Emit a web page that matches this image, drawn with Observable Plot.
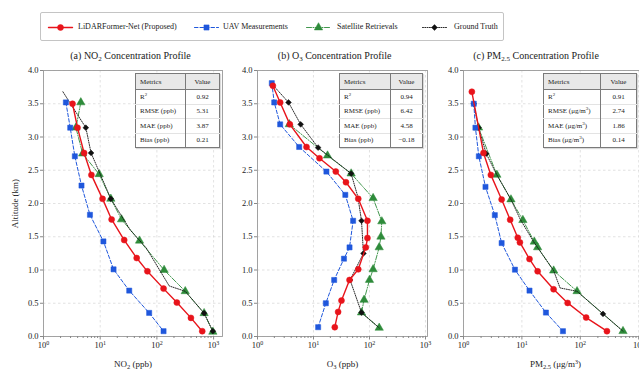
<!DOCTYPE html>
<html><head><meta charset="utf-8">
<script src="https://cdn.jsdelivr.net/npm/d3@7"></script>
<script src="https://cdn.jsdelivr.net/npm/@observablehq/plot@0.6"></script>
<style>
body{margin:0;width:639px;height:372px;overflow:hidden;position:relative;background:#fff;font-family:"Liberation Serif","Times New Roman",serif;color:#222}
.abs{position:absolute}
.title{position:absolute;top:50px;font-size:10px;line-height:12px;white-space:nowrap;transform:translateX(-50%)}
.title sub{font-size:7px;vertical-align:-2px;line-height:0}
table.m{position:absolute;border-collapse:collapse;font-size:7px;background:#fff;border:1px solid #7a7a7a;box-shadow:1px 1px 1px rgba(0,0,0,0.15)}
table.m td{padding:0 0 0 4px;border-top:1px solid #e3e3e3;height:13.5px;line-height:8px;white-space:nowrap}
table.m td.v{text-align:center;padding:0;border-left:1px solid #7a7a7a}
table.m tr.h td{background:#e8e8e8;height:15px;border-top:none;border-bottom:1px solid #7a7a7a}
table.m sup{font-size:5px;vertical-align:3px;line-height:0}
#legend{left:40px;top:12px;width:462px;height:27px;border:1px solid #c4c4c4;border-radius:2px;background:#fff}
.li{position:absolute;top:8px;font-size:8px;line-height:12px;white-space:nowrap}
.plotbox{position:absolute;top:62px}
</style>
</head><body>
<div id="legend" class="abs"></div>
<div id="titles"></div>
<div id="pa" class="plotbox" style="left:0px"></div>
<div id="pb" class="plotbox" style="left:222px"></div>
<div id="pc" class="plotbox" style="left:427px"></div>
<div id="tables"></div>
<script>
// ---------------- data ----------------
const seriesNames = ["LiDARFormer-Net (Proposed)", "UAV Measurements", "Satellite Retrievals", "Ground Truth"];
const panelTitles = ["(a) NO<sub>2</sub> Concentration Profile", "(b) O<sub>3</sub> Concentration Profile", "(c) PM<sub>2.5</sub> Concentration Profile"];
const xTickValues = [1, 10, 100, 1000];
const yTickValues = [0, 0.5, 1, 1.5, 2, 2.5, 3, 3.5, 4];
const metricNames = ["R<sup>2</sup>", "RMSE", "MAE", "Bias"];
const unitsA = "(ppb)", unitsB = "(ppb)", unitsC = "(μg/m<sup>3</sup>)";
const metricValA = ["0.92", "5.31", "3.87", "0.21"];
const metricValB = ["0.94", "6.42", "4.58", "−0.18"];
const metricValC = ["0.91", "2.74", "1.86", "0.14"];

// Panel (a) NO2
const altRedA = [3.50, 3.14, 2.76, 2.43, 2.07, 1.76, 1.45, 1.18, 0.98, 0.72, 0.51, 0.28, 0.08];
const valRedA = [3.25, 3.98, 5.2, 7.0, 11, 15.9, 26.5, 44, 68, 131, 225, 398, 630];
const altBlueA = [3.52, 3.14, 2.71, 2.27, 1.83, 1.43, 1.01, 0.69, 0.355, 0.08];
const valBlueA = [2.48, 2.96, 3.57, 4.68, 6.6, 11.4, 17.2, 32.5, 73, 131];
const altGreenA = [3.52, 3.14, 2.75, 2.44, 2.07, 1.76, 1.44, 1.0, 0.68, 0.35, 0.07];
const valGreenA = [4.55, 3.73, 4.9, 9.6, 15.4, 23.8, 49.4, 134, 316, 680, 970];
const altBlackA = [3.68, 3.14, 2.76, 2.07, 1.6, 1.33, 0.76, 0.68, 0.35, 0.08];
const valBlackA = [2.2, 5.58, 6.9, 15.4, 34, 65, 165, 316, 680, 970];
const markBlackA = [0, 1, 1, 1, 0, 0, 0, 0, 1, 1];

// Panel (b) O3
const altRedB = [3.77, 3.52, 3.19, 2.85, 2.68, 2.48, 2.32, 2.07, 1.74, 1.48, 1.34, 1.01, 0.85, 0.54, 0.37, 0.14];
const valRedB = [1.88, 2.54, 3.78, 7.5, 12.8, 25, 38, 63, 92, 92, 86, 63, 44, 31.6, 27.5, 24];
const altBlueB = [3.81, 3.52, 3.19, 2.85, 2.48, 2.13, 1.74, 1.34, 1.17, 0.85, 0.5, 0.14];
const valBlueB = [1.8, 1.99, 2.54, 5.55, 17, 37, 51, 44, 35, 23.4, 16.6, 12.1];
const altGreenB = [3.19, 2.72, 2.45, 2.08, 1.73, 1.5, 1.34, 1.01, 0.85, 0.55, 0.36, 0.13];
const valGreenB = [3.7, 17.8, 47, 116, 166, 160, 149, 116, 100, 80, 72, 149];
const altBlackB = [3.8, 3.52, 3.19, 2.84, 2.45, 2.1, 1.74, 1.25, 0.85, 0.36, 0.13];
const valBlackB = [1.8, 3.58, 5.9, 12.1, 47, 62, 72, 78, 45, 72, 149];
const markBlackB = [0, 1, 1, 1, 1, 0, 1, 1, 1, 1, 0];

// Panel (c) PM2.5
const altRedC = [3.68, 2.76, 2.43, 2.06, 1.755, 1.485, 1.415, 1.165, 0.98, 0.71, 0.505, 0.285, 0.08];
const valRedC = [1.39, 2.2, 2.94, 4.5, 6.3, 8.5, 9.25, 13.5, 18.6, 34.9, 60.7, 126, 286];
const altBlueC = [3.5, 3.14, 2.71, 2.25, 1.825, 1.405, 1.005, 0.69, 0.36, 0.08];
const valBlueC = [1.5, 1.6, 1.83, 2.38, 3.44, 4.5, 7.6, 13.5, 25.8, 50.5];
const altGreenC = [3.14, 2.43, 2.06, 1.75, 1.425, 1.34, 0.99, 0.68, 0.08];
const valGreenC = [1.81, 3.73, 6.5, 10.4, 16.3, 18.6, 35, 88, 539];
const altBlackC = [3.5, 3.14, 2.75, 2.43, 2.06, 1.76, 1.42, 0.99, 0.73, 0.68, 0.34, 0.08];
const valBlackC = [1.5, 1.81, 2.45, 3.73, 6.5, 9.4, 16, 35, 45, 88, 245, 539];
const markBlackC = [1, 1, 1, 0, 0, 0, 0, 0, 0, 0, 1, 0];

// ---------------- styles ----------------
const styles = [
  {color: "#e8141b", width: 1.4, dash: null, symbol: "circle", r: 3.0},
  {color: "#1f57dc", width: 1.0, dash: "3.5,2", symbol: "square", r: 2.9},
  {color: "#2e8b3a", width: 0.9, dash: "5,1.5,1,1.5", symbol: "triangle", r: 3.1},
  {color: "#111111", width: 0.9, dash: "1,1.3", symbol: "diamond2", r: 2.6}
];

function series(alt, val, mark) {
  return alt.map((a, i) => ({alt: a, val: val[i], mark: mark ? mark[i] : 1}));
}

const panels = [
  {el: "#pa", w: 230, ml: 43, xmax: 1435, ylabel: "Altitude (km)", xlabel: "NO2 (ppb)",
   xhtml: 'NO<tspan dy="2.5" font-size="6.5">2</tspan><tspan dy="-2.5"> (ppb)</tspan>',
   data: [series(altRedA, valRedA), series(altBlueA, valBlueA), series(altGreenA, valGreenA), series(altBlackA, valBlackA, markBlackA)]},
  {el: "#pb", w: 213, ml: 35, xmax: 1086, ylabel: null, xlabel: "O3 (ppb)",
   xhtml: 'O<tspan dy="2.5" font-size="6.5">3</tspan><tspan dy="-2.5"> (ppb)</tspan>',
   data: [series(altRedB, valRedB), series(altBlueB, valBlueB), series(altGreenB, valGreenB), series(altBlackB, valBlackB, markBlackB)]},
  {el: "#pc", w: 228, ml: 36, xmax: 1416, ylabel: null, xlabel: "PM2.5 (μg/m3)",
   xhtml: 'PM<tspan dy="2.5" font-size="6.5">2.5</tspan><tspan dy="-2.5"> (μg/m</tspan><tspan dy="-3" font-size="6">3</tspan><tspan dy="3">)</tspan>',
   data: [series(altRedC, valRedC), series(altBlueC, valBlueC), series(altGreenC, valGreenC), series(altBlackC, valBlackC, markBlackC)]}
];

const drawOrder = [2, 3, 1, 0];

panels.forEach(p => {
  const minor = [];
  for (let e = 0; e < 4; e++) for (let k = 2; k <= 9; k++) { const v = k * 10 ** e; if (v <= p.xmax) minor.push(v); }
  const marks = [
    Plot.gridX(xTickValues, {stroke: "#cfcfcf", strokeOpacity: 1, strokeWidth: 0.6, strokeDasharray: "2.5,2.5"}),
    Plot.gridY(yTickValues, {stroke: "#cfcfcf", strokeOpacity: 1, strokeWidth: 0.6, strokeDasharray: "2.5,2.5"})
  ];
  drawOrder.forEach(i => {
    const s = styles[i], d = p.data[i];
    marks.push(Plot.line(d, {x: "val", y: "alt", stroke: s.color, strokeWidth: s.width, strokeDasharray: s.dash}));
    marks.push(Plot.dot(d.filter(q => q.mark), {x: "val", y: "alt", symbol: s.symbol, r: s.r, fill: s.color, stroke: s.color, strokeWidth: 0.5}));
  });
  marks.push(Plot.frame({stroke: "#9a9a9a", strokeWidth: 0.9}));
  marks.push(Plot.axisX(minor, {tickSize: 2, tickFormat: () => "", stroke: "#888", label: null}));
  marks.push(Plot.axisX(xTickValues, {tickSize: 3.5, tickPadding: 2, stroke: "#888", fill: "#222",
    tickFormat: d => "10^" + Math.round(Math.log10(d)),
    label: p.xlabel, labelAnchor: "center", labelOffset: 30, labelArrow: "none"}));
  marks.push(Plot.axisY(yTickValues, {tickSize: 3, tickPadding: 2, stroke: "#888", fill: "#222",
    tickFormat: d3.format(".1f"), label: p.ylabel, labelAnchor: "center", labelOffset: 32, labelArrow: "none"}));
  const chart = Plot.plot({
    width: p.w, height: 310, marginLeft: p.ml, marginRight: 8, marginTop: 8, marginBottom: 36,
    x: {type: "log", domain: [1, p.xmax]},
    y: {domain: [0, 4]},
    style: {background: "transparent", overflow: "visible", maxWidth: "none", fontFamily: "Liberation Serif", fontSize: "8.5px", color: "#222"},
    marks
  });
  d3.select(chart).selectAll("text").each(function() {
    const t = this.textContent;
    const m = /^10\^(\d)$/.exec(t);
    if (m) this.innerHTML = `10<tspan dy="-3.5" font-size="6">${m[1]}</tspan>`;
    else if (t === p.xlabel) { this.innerHTML = p.xhtml; this.setAttribute("font-size", "9"); }
    else if (p.ylabel && t === p.ylabel) this.setAttribute("font-size", "9");
  });
  document.querySelector(p.el).appendChild(chart);
});

// ---------------- titles ----------------
const titleX = [130.5, 334.7, 536];
const titles = document.getElementById("titles");
panelTitles.forEach((t, i) => {
  const d = document.createElement("div");
  d.className = "title"; d.style.left = titleX[i] + "px"; d.innerHTML = t;
  titles.appendChild(d);
});

// ---------------- tables ----------------
const tableCfg = [
  {left: 135, width: 85, col: 50, units: unitsA, vals: metricValA},
  {left: 339, width: 84, col: 51, units: unitsB, vals: metricValB},
  {left: 543, width: 94, col: 57, units: unitsC, vals: metricValC}
];
const tbl = document.getElementById("tables");
tableCfg.forEach(c => {
  let h = `<table class="m" style="left:${c.left}px;top:73px;width:${c.width}px"><colgroup><col style="width:${c.col}px"><col></colgroup>`;
  h += `<tr class="h"><td>Metrics</td><td class="v">Value</td></tr>`;
  metricNames.forEach((n, i) => {
    const name = i === 0 ? n : n + " " + c.units;
    h += `<tr><td>${name}</td><td class="v">${c.vals[i]}</td></tr>`;
  });
  h += `</table>`;
  tbl.insertAdjacentHTML("beforeend", h);
});

// ---------------- legend ----------------
const legendSwatchX = [7, 153, 265, 381];
const legendTextX = [37, 182, 296, 413];
const legend = document.getElementById("legend");
seriesNames.forEach((n, i) => {
  const s = styles[i];
  const sw = Plot.plot({
    width: 24, height: 12, margin: 0,
    x: {domain: [0, 1], axis: null}, y: {domain: [0, 1], axis: null},
    style: {background: "transparent", overflow: "visible"},
    marks: [
      Plot.line([{x: 0, y: 0.5}, {x: 1, y: 0.5}], {x: "x", y: "y", stroke: s.color, strokeWidth: s.width, strokeDasharray: s.dash}),
      Plot.dot([{x: 0.5, y: 0.5}], {x: "x", y: "y", symbol: s.symbol, r: s.r, fill: s.color, stroke: s.color, strokeWidth: 0.5})
    ]
  });
  sw.style.position = "absolute"; sw.style.left = legendSwatchX[i] + "px"; sw.style.top = "8px";
  legend.appendChild(sw);
  const t = document.createElement("div");
  t.className = "li"; t.style.left = legendTextX[i] + "px"; t.textContent = n;
  legend.appendChild(t);
});
</script>
</body></html>
